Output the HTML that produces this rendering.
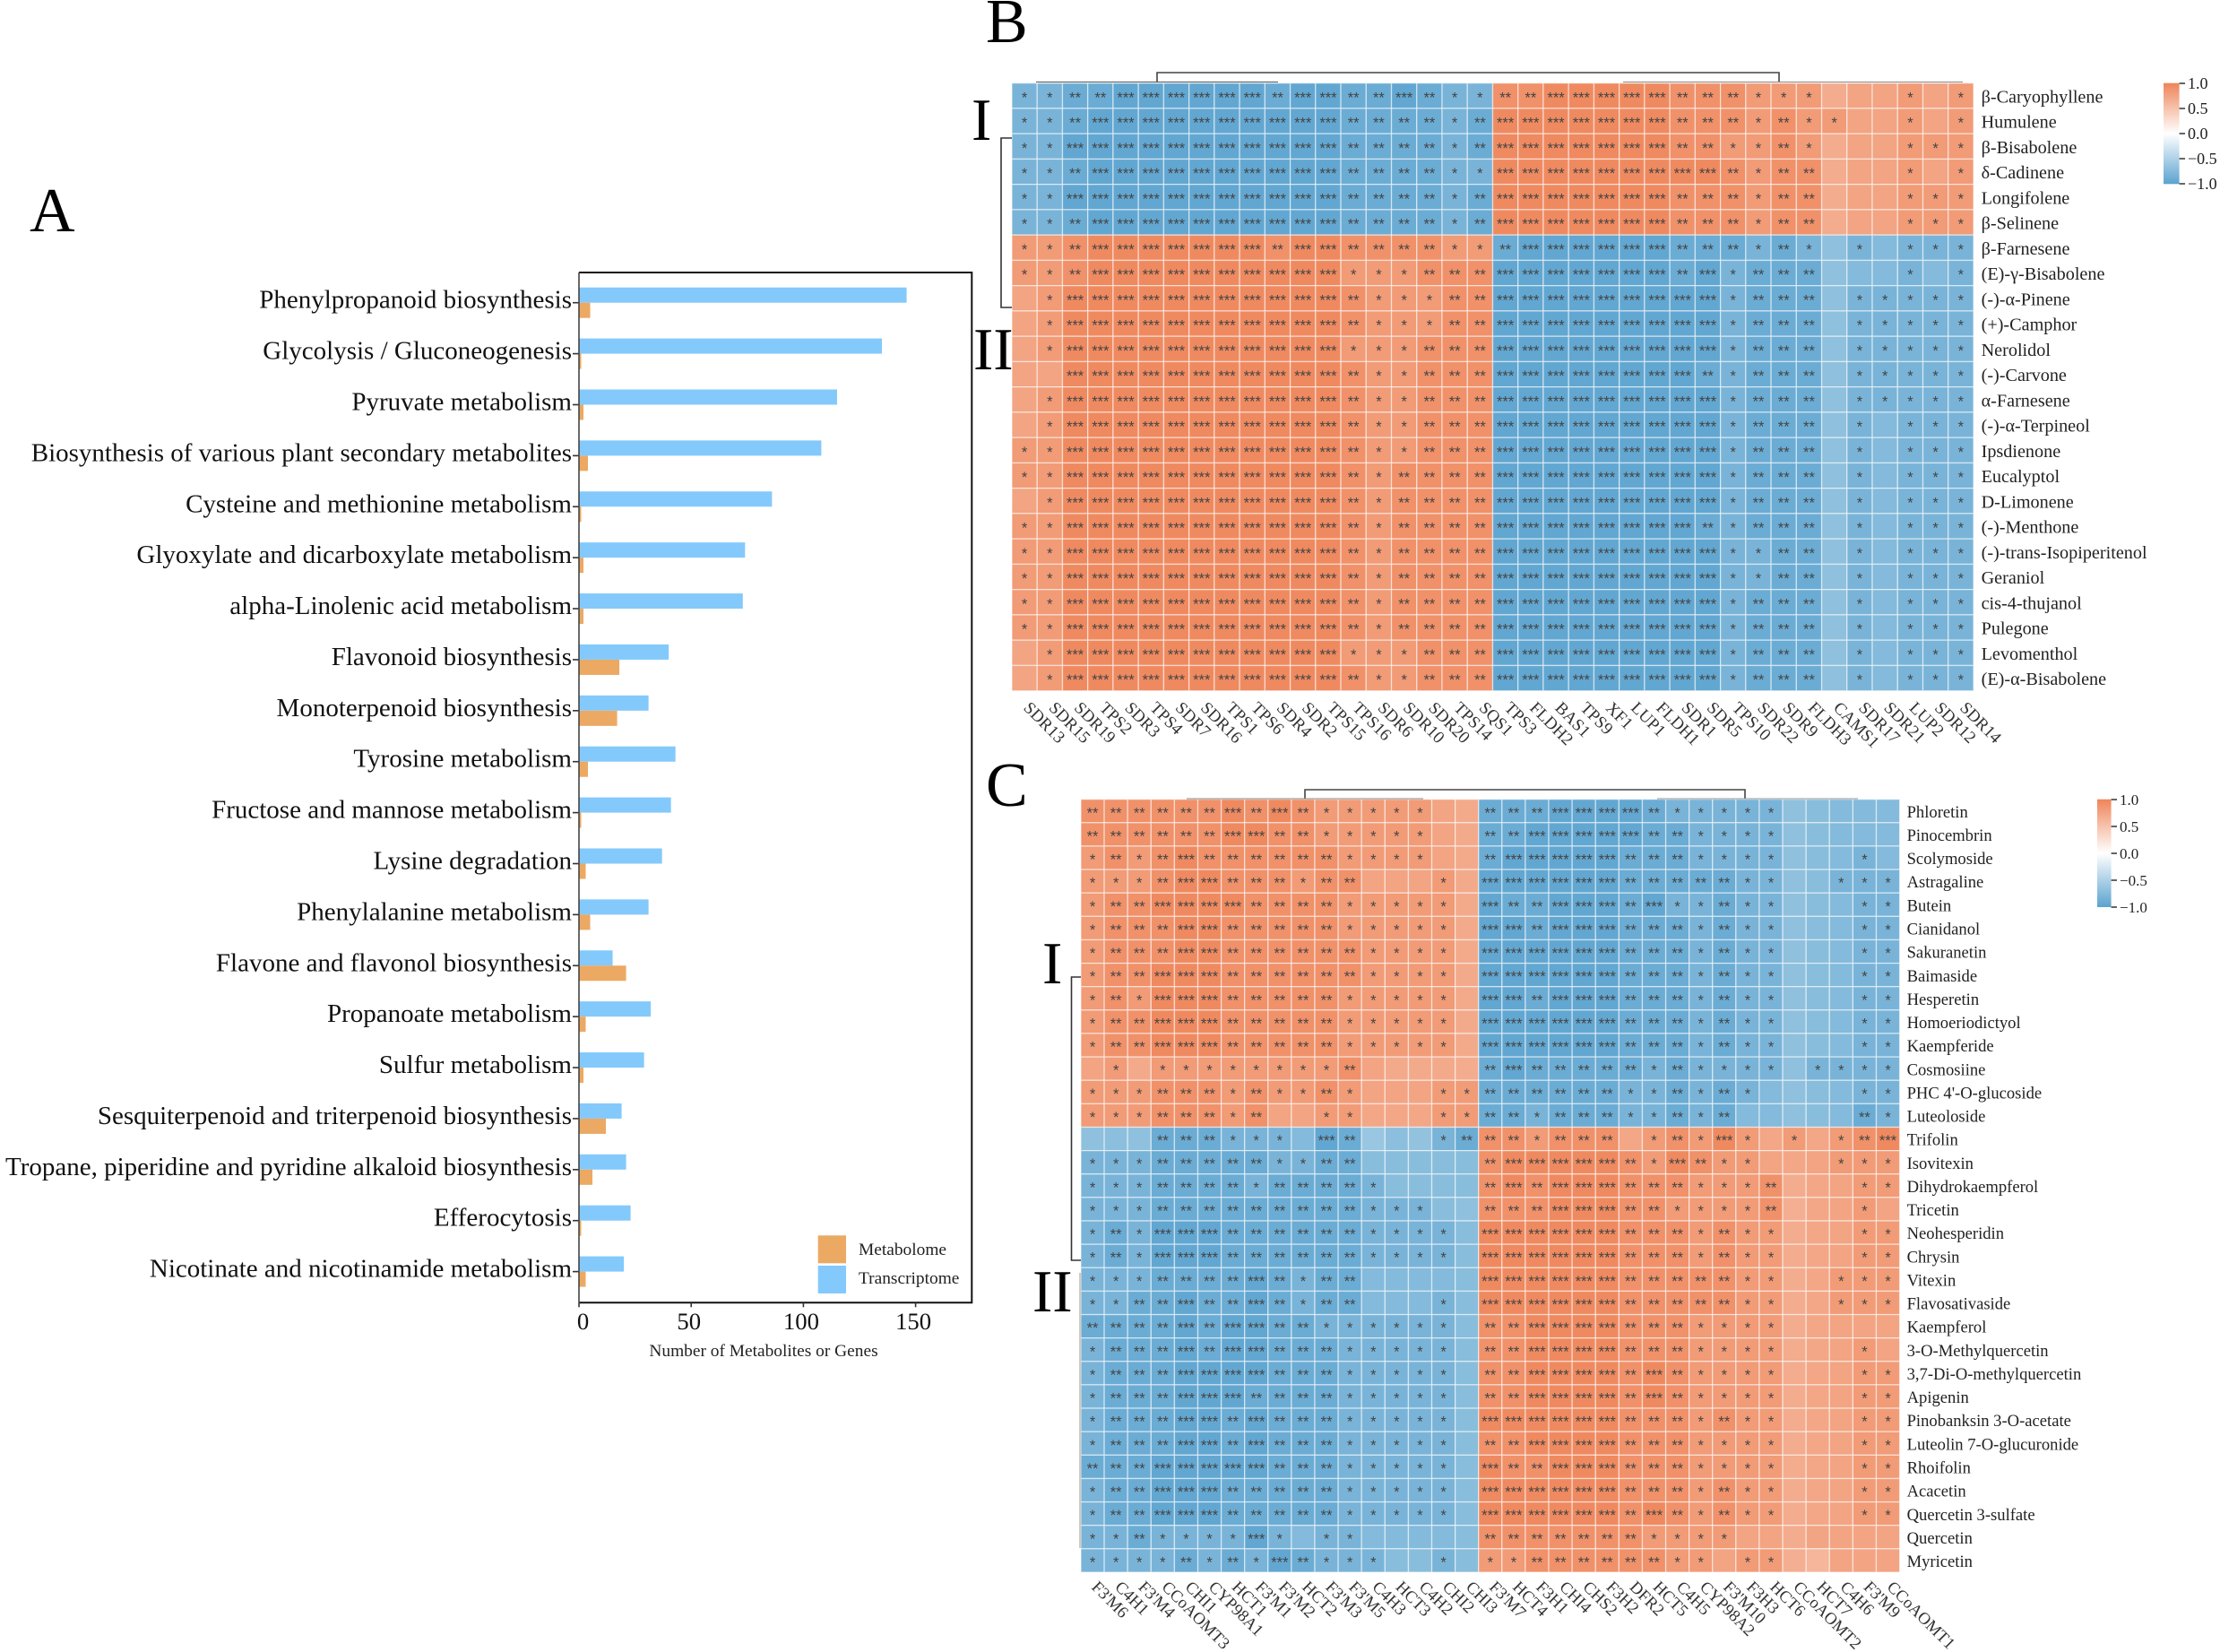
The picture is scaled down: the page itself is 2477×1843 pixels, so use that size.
<!DOCTYPE html>
<html lang="en">
<head>
<meta charset="utf-8">
<title>Metabolome and transcriptome integration figure</title>
<style>
html,body{margin:0;padding:0;background:#fff;}
svg{display:block;font-family:"Liberation Serif","Noto Serif CJK SC",serif;}
</style>
</head>
<body>
<svg id="figure" xmlns="http://www.w3.org/2000/svg" width="2477" height="1843" viewBox="0 0 2477 1843">
  <defs>
    <linearGradient id="cbar" x1="0" y1="0" x2="0" y2="1">
      <stop offset="0" stop-color="#ee8559"/>
      <stop offset="0.5" stop-color="#ffffff"/>
      <stop offset="1" stop-color="#5ba3cf"/>
    </linearGradient>
  </defs>
  <rect x="0" y="0" width="2477" height="1843" fill="#fff"/>
  <text x="33" y="258" font-size="70">A</text>
  <text x="1100" y="47" font-size="70">B</text>
  <text x="1100" y="899" font-size="70">C</text>
  <text x="1084" y="156" font-size="67">I</text>
  <text x="1086" y="412" font-size="67">II</text>
  <text x="1163" y="1097" font-size="67">I</text>
  <text x="1152" y="1463" font-size="67">II</text>

  <g id="bars"></g>
  <g id="heatB"></g>
  <g id="heatC"></g>

  <g fill="none" stroke="#444" stroke-width="1.6">
    <path d="M1291 91V81H1985V91"/>
    <path d="M1156 91.5H1426" stroke="#555" stroke-width="1"/>
    <path d="M1811 91.5H2190" stroke="#888" stroke-width="1"/>
    <path d="M1129 154H1117V343H1129" stroke="#333"/>
  </g>
  <g fill="none" stroke="#444" stroke-width="1.6">
    <path d="M1456 891V881H1947V891"/>
    <path d="M1324 891H1588" stroke="#888" stroke-width="1"/>
    <path d="M1849 891H2073" stroke="#999" stroke-width="1"/>
    <path d="M1206 1090H1195.5V1406H1206" stroke="#333"/>
    <path d="M1205 1420V1727" stroke="#b5a794" stroke-width="1.2"/>
  </g>

  <g font-size="18" fill="#222">
    <rect x="2414" y="92.7" width="17.6" height="112.6" fill="url(#cbar)"/>
    <path d="M2431.6 93H2438M2431.6 121H2438M2431.6 149H2438M2431.6 177H2438M2431.6 205H2438" stroke="#333" stroke-width="1.4"/>
    <text x="2441" y="99">1.0</text>
    <text x="2441" y="127">0.5</text>
    <text x="2441" y="155">0.0</text>
    <text x="2441" y="183">−0.5</text>
    <text x="2441" y="211">−1.0</text>
  </g>
  <g font-size="17" fill="#222">
    <rect x="2340" y="891.7" width="15.6" height="120.3" fill="url(#cbar)"/>
    <path d="M2355.6 892H2362M2355.6 922H2362M2355.6 952H2362M2355.6 982H2362M2355.6 1012H2362" stroke="#333" stroke-width="1.4"/>
    <text x="2365" y="898">1.0</text>
    <text x="2365" y="928">0.5</text>
    <text x="2365" y="958">0.0</text>
    <text x="2365" y="988">−0.5</text>
    <text x="2365" y="1018">−1.0</text>
  </g>
</svg>
<script>
// ---------- Panel A data ----------
const pathways = ["Phenylpropanoid biosynthesis","Glycolysis / Gluconeogenesis","Pyruvate metabolism","Biosynthesis of various plant secondary metabolites","Cysteine and methionine metabolism","Glyoxylate and dicarboxylate metabolism","alpha-Linolenic acid metabolism","Flavonoid biosynthesis","Monoterpenoid biosynthesis","Tyrosine metabolism","Fructose and mannose metabolism","Lysine degradation","Phenylalanine metabolism","Flavone and flavonol biosynthesis","Propanoate metabolism","Sulfur metabolism","Sesquiterpenoid and triterpenoid biosynthesis","Tropane, piperidine and pyridine alkaloid biosynthesis","Efferocytosis","Nicotinate and nicotinamide metabolism"];
const transcriptome = [146,135,115,108,86,74,73,40,31,43,41,37,31,15,32,29,19,21,23,20];
const metabolome = [5,1,2,4,1,2,2,18,17,4,1,3,5,21,3,2,12,6,1,3];
const xTickValues = [0,50,100,150];

// ---------- Panel B data (correlation x 100) ----------
const bRowLabels = ["β-Caryophyllene","Humulene","β-Bisabolene","δ-Cadinene","Longifolene","β-Selinene","β-Farnesene","(E)-γ-Bisabolene","(-)-α-Pinene","(+)-Camphor","Nerolidol","(-)-Carvone","α-Farnesene","(-)-α-Terpineol","Ipsdienone","Eucalyptol","D-Limonene","(-)-Menthone","(-)-trans-Isopiperitenol","Geraniol","cis-4-thujanol","Pulegone","Levomenthol","(E)-α-Bisabolene"];
const bColLabels = ["SDR13","SDR15","SDR19","TPS2","SDR3","TPS4","SDR7","SDR16","TPS1","TPS6","SDR4","SDR2","TPS15","TPS16","SDR6","SDR10","SDR20","TPS14","SQS1","TPS3","FLDH2","BAS1","TPS9","XF1","LUP1","FLDH1","SDR1","SDR5","TPS10","SDR22","SDR9","FLDH3","CAMS1","SDR17","SDR21","LUP2","SDR12","SDR14"];
const bValues = [
[-82,-82,-90,-90,-96,-96,-96,-96,-96,-96,-90,-96,-96,-90,-90,-96,-90,-82,-82,90,90,96,96,96,96,96,90,90,90,82,82,82,68,75,75,82,75,82],
[-82,-82,-90,-96,-96,-96,-96,-96,-96,-96,-96,-96,-96,-90,-90,-90,-90,-82,-90,96,96,96,96,96,96,96,90,90,90,82,90,82,82,75,75,82,75,82],
[-82,-82,-96,-96,-96,-96,-96,-96,-96,-96,-96,-96,-96,-90,-90,-90,-90,-82,-90,96,96,96,96,96,96,96,90,90,82,82,90,82,68,75,75,82,82,82],
[-82,-82,-90,-96,-96,-96,-96,-96,-96,-96,-96,-96,-96,-90,-90,-90,-90,-82,-82,96,96,96,96,96,96,96,96,96,90,82,90,90,68,75,75,82,75,82],
[-82,-82,-96,-96,-96,-96,-96,-96,-96,-96,-96,-96,-96,-90,-90,-90,-90,-82,-90,96,96,96,96,96,96,96,90,90,90,82,90,90,68,75,75,82,82,82],
[-82,-82,-90,-96,-96,-96,-96,-96,-96,-96,-96,-96,-96,-90,-90,-90,-90,-82,-90,96,96,96,96,96,96,96,90,90,90,82,90,90,68,75,75,82,82,82],
[82,82,90,96,96,96,96,96,96,96,90,96,96,90,90,90,90,82,82,-90,-96,-96,-96,-96,-96,-96,-90,-90,-90,-82,-90,-82,-68,-82,-75,-82,-82,-82],
[82,82,90,96,96,96,96,96,96,96,96,96,96,82,82,82,90,90,90,-96,-96,-96,-96,-96,-96,-96,-90,-96,-82,-90,-90,-90,-68,-75,-75,-82,-75,-82],
[75,82,96,96,96,96,96,96,96,96,96,96,96,90,82,82,82,90,90,-96,-96,-96,-96,-96,-96,-96,-96,-96,-82,-90,-90,-90,-68,-82,-82,-82,-82,-82],
[75,82,96,96,96,96,96,96,96,96,96,96,96,90,82,82,82,90,90,-96,-96,-96,-96,-96,-96,-96,-96,-96,-82,-90,-90,-90,-68,-82,-82,-82,-82,-82],
[75,82,96,96,96,96,96,96,96,96,96,96,96,82,82,82,90,90,90,-96,-96,-96,-96,-96,-96,-96,-96,-96,-82,-90,-90,-90,-68,-82,-82,-82,-82,-82],
[75,75,96,96,96,96,96,96,96,96,96,96,96,90,82,82,90,90,90,-96,-96,-96,-96,-96,-96,-96,-96,-90,-82,-90,-90,-90,-68,-82,-82,-82,-82,-82],
[75,82,96,96,96,96,96,96,96,96,96,96,96,90,82,82,90,90,90,-96,-96,-96,-96,-96,-96,-96,-96,-96,-82,-90,-90,-90,-68,-82,-82,-82,-82,-82],
[75,82,96,96,96,96,96,96,96,96,96,96,96,90,82,82,90,90,90,-96,-96,-96,-96,-96,-96,-96,-96,-96,-82,-90,-90,-90,-68,-82,-75,-82,-82,-82],
[82,82,96,96,96,96,96,96,96,96,96,96,96,90,82,82,90,90,90,-96,-96,-96,-96,-96,-96,-96,-96,-96,-82,-90,-90,-90,-68,-82,-75,-82,-82,-82],
[82,82,96,96,96,96,96,96,96,96,96,96,96,90,82,90,90,90,90,-96,-96,-96,-96,-96,-96,-96,-96,-96,-82,-90,-90,-90,-68,-82,-75,-82,-82,-82],
[75,82,96,96,96,96,96,96,96,96,96,96,96,90,82,90,90,90,90,-96,-96,-96,-96,-96,-96,-96,-96,-96,-82,-90,-90,-90,-68,-82,-75,-82,-82,-82],
[82,82,96,96,96,96,96,96,96,96,96,96,96,90,82,90,90,90,90,-96,-96,-96,-96,-96,-96,-96,-96,-90,-82,-90,-90,-90,-68,-82,-75,-82,-82,-82],
[82,82,96,96,96,96,96,96,96,96,96,96,96,90,82,90,90,90,90,-96,-96,-96,-96,-96,-96,-96,-96,-96,-82,-82,-90,-90,-68,-82,-75,-82,-82,-82],
[82,82,96,96,96,96,96,96,96,96,96,96,96,90,82,90,90,90,90,-96,-96,-96,-96,-96,-96,-96,-96,-96,-82,-82,-90,-90,-68,-82,-75,-82,-82,-82],
[82,82,96,96,96,96,96,96,96,96,96,96,96,90,82,90,90,90,90,-96,-96,-96,-96,-96,-96,-96,-96,-96,-82,-90,-90,-90,-68,-82,-75,-82,-82,-82],
[82,82,96,96,96,96,96,96,96,96,96,96,96,90,82,90,90,90,90,-96,-96,-96,-96,-96,-96,-96,-96,-96,-82,-90,-90,-90,-68,-82,-75,-82,-82,-82],
[75,82,96,96,96,96,96,96,96,96,96,96,96,82,82,82,90,90,90,-96,-96,-96,-96,-96,-96,-96,-96,-96,-82,-90,-90,-90,-68,-82,-75,-82,-82,-82],
[75,82,96,96,96,96,96,96,96,96,96,96,96,90,82,82,90,90,90,-96,-96,-96,-96,-96,-96,-96,-96,-96,-82,-90,-90,-90,-68,-82,-75,-82,-82,-82]
];

// ---------- Panel C data (correlation x 100) ----------
const cRowLabels = ["Phloretin","Pinocembrin","Scolymoside","Astragaline","Butein","Cianidanol","Sakuranetin","Baimaside","Hesperetin","Homoeriodictyol","Kaempferide","Cosmosiine","PHC 4'-O-glucoside","Luteoloside","Trifolin","Isovitexin","Dihydrokaempferol","Tricetin","Neohesperidin","Chrysin","Vitexin","Flavosativaside","Kaempferol","3-O-Methylquercetin","3,7-Di-O-methylquercetin","Apigenin","Pinobanksin 3-O-acetate","Luteolin 7-O-glucuronide","Rhoifolin","Acacetin","Quercetin 3-sulfate","Quercetin","Myricetin"];
const cColLabels = ["F3'M6","C4H1","F3'M4","CCoAOMT3","CHI1","CYP98A1","HCT1","F3'M1","F3'M2","HCT2","F3'M3","F3'M5","C4H3","HCT3","C4H2","CHI2","CHI3","F3'M7","HCT4","F3H1","CHI4","CHS2","F3H2","DFR2","HCT5","C4H5","CYP98A2","F3'M10","F3H3","HCT6","CCoAOMT2","HCT7","C4H6","F3'M9","CCoAOMT1"];
const cValues = [
[90,90,90,90,90,90,96,90,96,90,82,82,82,82,82,75,70,-90,-90,-90,-96,-96,-96,-96,-90,-82,-82,-82,-82,-82,-68,-72,-75,-75,-75],
[90,90,90,90,90,90,96,96,90,90,82,82,82,82,82,75,70,-90,-90,-96,-96,-96,-96,-96,-90,-90,-82,-82,-82,-82,-68,-72,-75,-75,-75],
[82,90,82,90,96,90,90,90,90,90,90,82,82,82,82,75,70,-90,-96,-96,-96,-96,-96,-90,-90,-90,-82,-82,-82,-82,-68,-72,-75,-82,-75],
[82,82,82,90,96,96,90,90,90,82,90,90,75,75,75,82,70,-96,-96,-96,-96,-96,-96,-90,-90,-90,-90,-90,-82,-82,-68,-72,-82,-82,-82],
[82,90,90,96,96,96,96,90,90,90,90,82,82,82,82,82,70,-96,-90,-90,-96,-96,-96,-90,-96,-82,-82,-90,-82,-82,-68,-72,-75,-82,-82],
[82,90,90,90,96,96,90,90,90,90,90,82,82,82,82,82,70,-96,-96,-90,-96,-96,-96,-90,-90,-90,-82,-90,-82,-82,-68,-72,-75,-82,-82],
[82,90,90,90,96,96,90,90,90,90,90,90,82,82,82,82,70,-96,-96,-96,-96,-96,-96,-90,-90,-90,-82,-90,-82,-82,-68,-72,-75,-82,-82],
[82,90,90,96,96,96,90,90,90,90,90,90,82,82,82,82,70,-96,-96,-96,-96,-96,-96,-90,-90,-90,-82,-90,-82,-82,-68,-72,-75,-82,-82],
[82,90,82,96,96,96,90,90,90,90,90,82,82,82,82,82,70,-96,-96,-90,-96,-96,-96,-90,-90,-90,-82,-90,-82,-82,-68,-72,-75,-82,-82],
[82,90,90,96,96,96,90,90,90,90,90,82,82,82,82,82,70,-96,-96,-96,-96,-96,-96,-90,-90,-90,-82,-90,-82,-82,-68,-72,-75,-82,-82],
[82,90,90,96,96,96,90,90,90,90,90,82,82,82,82,82,70,-96,-96,-96,-96,-96,-96,-90,-90,-90,-82,-90,-82,-82,-68,-72,-75,-82,-82],
[75,82,70,82,82,82,82,82,82,82,82,90,75,70,70,70,68,-90,-96,-90,-90,-90,-90,-90,-82,-90,-82,-82,-82,-82,-68,-82,-82,-82,-82],
[82,82,82,90,90,90,82,90,82,82,90,82,75,75,75,82,82,-90,-90,-90,-90,-90,-90,-82,-82,-90,-82,-90,-82,-75,-68,-72,-75,-82,-82],
[82,82,82,90,90,90,82,90,75,75,82,82,72,72,72,82,82,-90,-90,-82,-90,-90,-90,-82,-82,-90,-82,-90,-75,-75,-68,-72,-75,-90,-82],
[-68,-70,-68,-90,-90,-90,-82,-82,-82,-75,-96,-90,-62,-70,-66,-82,-90,90,90,82,90,90,90,72,82,90,82,96,82,72,82,72,82,90,96],
[-82,-82,-82,-90,-90,-90,-90,-90,-82,-82,-90,-90,-72,-72,-72,-72,-72,90,96,96,96,96,96,90,82,96,90,82,82,75,72,75,82,82,82],
[-82,-82,-82,-90,-90,-90,-90,-82,-90,-90,-90,-90,-82,-72,-72,-72,-72,90,96,90,96,96,96,90,90,90,82,82,82,90,68,72,75,82,82],
[-82,-82,-82,-90,-90,-90,-90,-90,-90,-90,-90,-90,-82,-82,-82,-72,-68,90,90,90,96,96,96,90,90,82,82,82,82,90,66,72,75,82,75],
[-82,-90,-82,-96,-96,-96,-90,-90,-90,-90,-90,-90,-82,-82,-82,-82,-72,96,96,96,96,96,96,90,90,90,82,90,82,82,68,72,75,82,82],
[-82,-90,-82,-96,-96,-96,-90,-90,-90,-90,-90,-90,-82,-82,-82,-82,-72,96,96,96,96,96,96,90,90,90,82,90,82,82,68,72,75,82,82],
[-82,-82,-82,-90,-90,-90,-90,-96,-90,-82,-90,-90,-75,-75,-75,-75,-72,96,96,96,96,96,96,90,90,90,90,90,82,82,68,72,82,82,82],
[-82,-82,-90,-90,-96,-90,-90,-96,-90,-82,-90,-90,-75,-75,-75,-82,-72,96,96,96,96,96,96,90,90,90,90,90,82,82,68,72,82,82,82],
[-90,-90,-90,-90,-96,-90,-96,-96,-90,-90,-82,-82,-82,-82,-82,-82,-72,90,90,96,96,96,96,90,90,90,82,82,82,82,68,72,75,75,75],
[-82,-90,-90,-90,-96,-90,-96,-96,-90,-90,-90,-82,-82,-82,-82,-82,-72,90,90,96,96,96,96,90,90,90,82,82,82,82,68,72,75,82,75],
[-82,-90,-90,-90,-96,-96,-96,-96,-90,-90,-90,-82,-82,-82,-82,-82,-72,90,90,96,96,96,96,90,96,90,82,82,82,82,68,72,75,82,82],
[-82,-90,-90,-90,-96,-96,-96,-90,-90,-90,-90,-82,-82,-82,-82,-82,-72,90,90,96,96,96,96,90,96,90,82,82,82,82,68,72,75,82,82],
[-82,-90,-90,-90,-96,-96,-90,-96,-90,-90,-90,-82,-82,-82,-82,-82,-72,96,96,96,96,96,96,90,90,90,82,90,82,82,68,72,75,82,82],
[-82,-90,-90,-90,-96,-96,-90,-96,-90,-90,-90,-82,-82,-82,-82,-82,-72,90,90,96,96,96,96,90,90,90,82,82,82,82,68,72,75,82,82],
[-90,-90,-90,-96,-96,-96,-96,-96,-90,-90,-90,-82,-82,-82,-82,-82,-72,96,90,90,96,96,96,90,90,90,82,82,82,82,68,72,75,82,82],
[-82,-90,-90,-96,-96,-96,-90,-90,-90,-90,-90,-82,-82,-82,-82,-82,-72,96,96,96,96,96,96,90,90,90,82,90,82,82,68,72,75,82,82],
[-82,-90,-90,-96,-96,-96,-90,-90,-90,-90,-90,-82,-82,-82,-82,-82,-72,96,96,96,96,96,96,90,96,90,82,90,82,82,68,72,75,82,82],
[-82,-82,-90,-82,-82,-82,-82,-96,-82,-75,-82,-82,-75,-75,-75,-75,-72,90,90,90,90,90,90,90,82,82,82,82,75,75,68,74,75,75,75],
[-82,-82,-82,-82,-90,-82,-90,-82,-96,-90,-82,-82,-82,-72,-72,-82,-72,82,82,90,90,90,90,90,90,82,82,75,82,82,66,60,75,75,75]
];

const NS = "http://www.w3.org/2000/svg";
function mk(tag, parent) {
  const el = document.createElementNS(NS, tag);
  parent.appendChild(el);
  return el;
}

// ---------- Panel A ----------
(function drawBars() {
  const g = document.getElementById("bars");
  const left = 646, right = 1084.3, top = 304, bottom = 1453.3;
  const xScale = v => left + v * 2.504;
  const yScale = i => 337.7 + i * 56.89;
  const barH = 17;

  pathways.forEach((name, i) => {
    const y = yScale(i);

    const blue = mk("rect", g);
    
    
    blue.setAttribute("x", xScale(0));
    blue.setAttribute("y", y - barH);
    blue.setAttribute("width", xScale(transcriptome[i]) - xScale(0));
    blue.setAttribute("height", barH);
    blue.setAttribute("fill", "#84c9fb");

    const orange = mk("rect", g);
    
    
    orange.setAttribute("x", xScale(0));
    orange.setAttribute("y", y);
    orange.setAttribute("width", xScale(metabolome[i]) - xScale(0));
    orange.setAttribute("height", barH);
    orange.setAttribute("fill", "#eca963");

    const tick = mk("line", g);
    
    
    tick.setAttribute("x1", left - 7);
    tick.setAttribute("x2", left);
    tick.setAttribute("y1", y);
    tick.setAttribute("y2", y);
    tick.setAttribute("stroke", "#333");
    tick.setAttribute("stroke-width", "1.6");

    const label = mk("text", g);
    
    
    label.setAttribute("x", left - 8);
    label.setAttribute("y", y + 6);
    label.setAttribute("text-anchor", "end");
    label.setAttribute("font-size", "29");
    label.setAttribute("fill", "#111");
    label.textContent = name;
  });

  const frame = mk("path", g);
  
  
  frame.setAttribute("d", `M${left} ${top}H${right}V${bottom}H${left}`);
  frame.setAttribute("fill", "none");
  frame.setAttribute("stroke", "#111");
  frame.setAttribute("stroke-width", "2");

  const yAxis = mk("line", g);
  
  
  yAxis.setAttribute("x1", left);
  yAxis.setAttribute("x2", left);
  yAxis.setAttribute("y1", top);
  yAxis.setAttribute("y2", bottom);
  yAxis.setAttribute("stroke", "#444");
  yAxis.setAttribute("stroke-width", "1.6");

  xTickValues.forEach(v => {
    const x = xScale(v);
    const t = mk("line", g);
    
    
    t.setAttribute("x1", x);
    t.setAttribute("x2", x);
    t.setAttribute("y1", bottom);
    t.setAttribute("y2", bottom + 5);
    t.setAttribute("stroke", "#333");
    t.setAttribute("stroke-width", "1.6");

    const lab = mk("text", g);
    
    
    lab.setAttribute("x", x + (v === 0 ? 4.5 : -2.5));
    lab.setAttribute("y", 1483);
    lab.setAttribute("text-anchor", "middle");
    lab.setAttribute("font-size", "26.7");
    lab.setAttribute("fill", "#111");
    lab.textContent = v;
  });

  const title = mk("text", g);
  
  
  title.setAttribute("x", 852);
  title.setAttribute("y", 1513);
  title.setAttribute("text-anchor", "middle");
  title.setAttribute("font-size", "19.4");
  title.setAttribute("fill", "#222");
  title.textContent = "Number of Metabolites or Genes";

  const sw1 = mk("rect", g);
  
  
  sw1.setAttribute("x", 912.7);
  sw1.setAttribute("y", 1378.3);
  sw1.setAttribute("width", 31.3);
  sw1.setAttribute("height", 31);
  sw1.setAttribute("fill", "#eca963");

  const sw2 = mk("rect", g);
  
  
  sw2.setAttribute("x", 912.7);
  sw2.setAttribute("y", 1412);
  sw2.setAttribute("width", 31.3);
  sw2.setAttribute("height", 31);
  sw2.setAttribute("fill", "#84c9fb");

  const l1 = mk("text", g);
  
  
  l1.setAttribute("x", 958);
  l1.setAttribute("y", 1400);
  l1.setAttribute("font-size", "19.4");
  l1.setAttribute("fill", "#222");
  l1.textContent = "Metabolome";

  const l2 = mk("text", g);
  
  
  l2.setAttribute("x", 958);
  l2.setAttribute("y", 1432);
  l2.setAttribute("font-size", "19.4");
  l2.setAttribute("fill", "#222");
  l2.textContent = "Transcriptome";
})();

// ---------- Heatmaps ----------
function colorFor(v) {
  const a = Math.min(1, Math.abs(v) / 100);
  const end = v >= 0 ? [238, 133, 89] : [91, 163, 207];
  const c = end.map(e => Math.round(255 + (e - 255) * a));
  return `rgb(${c[0]},${c[1]},${c[2]})`;
}
function starsFor(v) {
  const a = Math.abs(v);
  if (a >= 93) return "***";
  if (a >= 87) return "**";
  if (a >= 80) return "*";
  return "";
}
function drawHeat(g, opt, rows, cols, values) {
  const cw = opt.w / cols.length, ch = opt.h / rows.length;
  const xPos = j => opt.x + j * cw;
  const yPos = i => opt.y + i * ch;

  values.forEach((row, i) => {
    row.forEach((v, j) => {
      const r = mk("rect", g);
      
      
      r.setAttribute("x", xPos(j));
      r.setAttribute("y", yPos(i));
      r.setAttribute("width", cw);
      r.setAttribute("height", ch);
      r.setAttribute("fill", colorFor(v));
      r.setAttribute("stroke", "#fff");
      r.setAttribute("stroke-opacity", "0.55");
      r.setAttribute("stroke-width", "1.3");

      const s = starsFor(v);
      if (s) {
        const t = mk("text", g);
        
        
        t.setAttribute("x", xPos(j) + cw / 2);
        t.setAttribute("y", yPos(i) + ch / 2 + 7.5);
        t.setAttribute("text-anchor", "middle");
        t.setAttribute("font-family", '"Liberation Sans", sans-serif');
        t.setAttribute("font-size", "16.5");
        t.setAttribute("fill", "#444");
        t.textContent = s;
      }
    });
  });

  rows.forEach((name, i) => {
    const t = mk("text", g);
    
    
    t.setAttribute("x", opt.x + opt.w + opt.rowGap);
    t.setAttribute("y", yPos(i) + ch / 2 + opt.rowFont * 0.3 + 1.5);
    t.setAttribute("font-size", opt.rowFont);
    t.setAttribute("fill", "#222");
    t.textContent = name;
  });

  cols.forEach((name, j) => {
    const px = xPos(j) + cw / 2 - 2;
    const py = opt.y + opt.h + opt.colGap;
    const t = mk("text", g);
    
    
    t.setAttribute("x", px);
    t.setAttribute("y", py);
    t.setAttribute("transform", `rotate(45 ${px} ${py})`);
    t.setAttribute("font-size", opt.colFont);
    t.setAttribute("fill", "#333");
    t.textContent = name;
  });
}
drawHeat(document.getElementById("heatB"),
  {x: 1129, y: 92.7, w: 1073, h: 678, rowGap: 8.6, rowFont: 20.2, colGap: 20, colFont: 19},
  bRowLabels, bColLabels, bValues);
drawHeat(document.getElementById("heatC"),
  {x: 1206, y: 891.7, w: 913.6, h: 862.3, rowGap: 8, rowFont: 18.6, colGap: 17.5, colFont: 18.6},
  cRowLabels, cColLabels, cValues);
</script>
</body>
</html>
